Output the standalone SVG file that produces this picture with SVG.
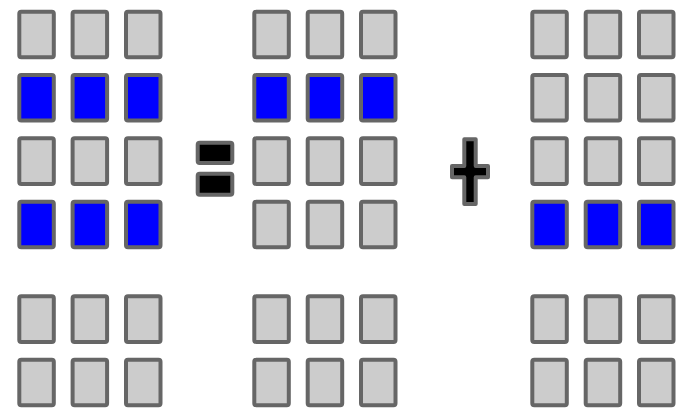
<svg xmlns="http://www.w3.org/2000/svg" width="679" height="408" viewBox="0 0 679 408">
<style>
.c{fill:#cccccc;stroke:#666666;stroke-width:4}
.b{fill:#0000ff;stroke:#666666;stroke-width:4}
.op{fill:#000000;stroke:#666666;stroke-width:4;stroke-linejoin:round}
</style>
<defs>
<rect id="cell" width="34.5" height="45.6" rx="2"/>
</defs>
<rect width="679" height="408" fill="#ffffff"/>
<g id="group1">
<use href="#cell" class="c" x="19.3" y="11.7"/><use href="#cell" class="c" x="72.6" y="11.7"/><use href="#cell" class="c" x="126" y="11.7"/>
<use href="#cell" class="b" x="19.3" y="75"/><use href="#cell" class="b" x="72.6" y="75"/><use href="#cell" class="b" x="126" y="75"/>
<use href="#cell" class="c" x="19.3" y="138.3"/><use href="#cell" class="c" x="72.6" y="138.3"/><use href="#cell" class="c" x="126" y="138.3"/>
<use href="#cell" class="b" x="19.3" y="201.7"/><use href="#cell" class="b" x="72.6" y="201.7"/><use href="#cell" class="b" x="126" y="201.7"/>
<use href="#cell" class="c" x="19.3" y="296.3"/><use href="#cell" class="c" x="72.6" y="296.3"/><use href="#cell" class="c" x="126" y="296.3"/>
<use href="#cell" class="c" x="19.3" y="359.7"/><use href="#cell" class="c" x="72.6" y="359.7"/><use href="#cell" class="c" x="126" y="359.7"/>
</g>
<g id="equals">
<rect class="op" x="197.7" y="142.7" width="34.6" height="20.3" rx="2"/>
<rect class="op" x="197.7" y="173.7" width="34.6" height="21" rx="2"/>
</g>
<g id="group2">
<use href="#cell" class="c" x="254.3" y="11.7"/><use href="#cell" class="c" x="307.7" y="11.7"/><use href="#cell" class="c" x="361" y="11.7"/>
<use href="#cell" class="b" x="254.3" y="75"/><use href="#cell" class="b" x="307.7" y="75"/><use href="#cell" class="b" x="361" y="75"/>
<use href="#cell" class="c" x="254.3" y="138.3"/><use href="#cell" class="c" x="307.7" y="138.3"/><use href="#cell" class="c" x="361" y="138.3"/>
<use href="#cell" class="c" x="254.3" y="201.7"/><use href="#cell" class="c" x="307.7" y="201.7"/><use href="#cell" class="c" x="361" y="201.7"/>
<use href="#cell" class="c" x="254.3" y="296.3"/><use href="#cell" class="c" x="307.7" y="296.3"/><use href="#cell" class="c" x="361" y="296.3"/>
<use href="#cell" class="c" x="254.3" y="359.7"/><use href="#cell" class="c" x="307.7" y="359.7"/><use href="#cell" class="c" x="361" y="359.7"/>
</g>
<g id="plus">
<path class="op" d="M464.3,139.3 H475.7 V166 H488 V177.3 H475.7 V204 H464.3 V177.3 H452 V166 H464.3 Z"/>
</g>
<g id="group3">
<use href="#cell" class="c" x="532.3" y="11.7"/><use href="#cell" class="c" x="585.7" y="11.7"/><use href="#cell" class="c" x="639" y="11.7"/>
<use href="#cell" class="c" x="532.3" y="75"/><use href="#cell" class="c" x="585.7" y="75"/><use href="#cell" class="c" x="639" y="75"/>
<use href="#cell" class="c" x="532.3" y="138.3"/><use href="#cell" class="c" x="585.7" y="138.3"/><use href="#cell" class="c" x="639" y="138.3"/>
<use href="#cell" class="b" x="532.3" y="201.7"/><use href="#cell" class="b" x="585.7" y="201.7"/><use href="#cell" class="b" x="639" y="201.7"/>
<use href="#cell" class="c" x="532.3" y="296.3"/><use href="#cell" class="c" x="585.7" y="296.3"/><use href="#cell" class="c" x="639" y="296.3"/>
<use href="#cell" class="c" x="532.3" y="359.7"/><use href="#cell" class="c" x="585.7" y="359.7"/><use href="#cell" class="c" x="639" y="359.7"/>
</g>
</svg>
